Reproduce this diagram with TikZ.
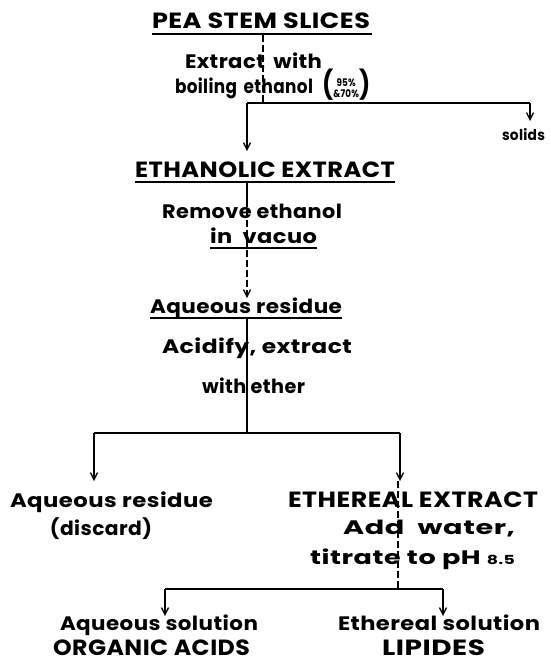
\documentclass[tikz,border=0pt]{standalone}
\usepackage{fontspec}
\setmainfont{Poppins}[LetterSpace=2]
\usetikzlibrary{arrows.meta}
\newsavebox\fwbox
\newlength\fwlen
\newcommand\fw[2]{\sbox\fwbox{#2}\setlength\fwlen{\wd\fwbox}\pgfmathsetmacro\fwr{#1/\fwlen}\scalebox{\fwr}[1]{\usebox\fwbox}}
\begin{document}
\begin{tikzpicture}[x=1pt,y=-1pt,
  txt/.style={inner sep=0pt,anchor=base,font=\bfseries\fontsize{19.5}{19.5}\selectfont},
  hdr/.style={txt,font=\bfseries\fontsize{22}{22}\selectfont},
  sml/.style={txt,font=\bfseries\fontsize{15}{15}\selectfont},
  ln/.style={line width=1.8pt},
  ul/.style={line width=1.6pt},
  arr/.style={ln,-{Straight Barb[length=7pt,width=7pt,line width=1.3pt]}},
  dsh/.style={line width=1.5pt,dash pattern=on 7pt off 3pt},
  darr/.style={dsh,-{Straight Barb[length=7pt,width=7pt,line width=1.3pt]}}]
\useasboundingbox (0,0) rectangle (551,665);
\fill[white] (0,0) rectangle (551,665);
% texts
\node[hdr] (pea) at (261,28) {\fw{218}{PEA STEM SLICES}};
\node[txt] (ext1) at (253.5,68) {\fw{137}{Extract \,with}};
\node[txt] (ext2) at (244,93) {\fw{138}{boiling \,ethanol}};
\node[inner sep=0pt,anchor=west] (pct) at (322,85) {\bfseries\fw{48}{{\fontsize{28}{28}\selectfont(}\raisebox{0.3ex}{\fontsize{10.5}{11.5}\selectfont\begin{tabular}{@{}c@{}}95\%\\\&70\%\end{tabular}}{\fontsize{28}{28}\selectfont)}}};
\node[sml] (solids) at (523.5,140) {\fw{43}{solids}};
\node[hdr] (etha) at (265,177) {\fw{260}{ETHANOLIC EXTRACT}};
\node[txt] (rem) at (252,218) {\fw{180}{Remove ethanol}};
\node[txt] (vac) at (263.5,243) {\fw{107}{in \ vacuo}};
\node[txt] (aq1) at (246,313) {\fw{192}{Aqueous residue}};
\node[txt] (acid) at (257,353) {\fw{190}{Acidify, extract}};
\node[txt] (eth) at (253.5,393) {\fw{103}{with ether}};
\node[txt] (aq2) at (111.5,507) {\fw{203}{Aqueous residue}};
\node[txt] (disc) at (101,535) {\fw{102}{(discard)}};
\node[hdr] (ethr) at (413,507) {\fw{250}{ETHEREAL EXTRACT}};
\node[txt] (add) at (429,534) {\fw{172}{Add \ water,}};
\node[txt] (tit) at (412.5,564) {\fw{205}{titrate to pH {\fontsize{12.5}{12.5}\selectfont 8.5}}};
\node[txt] (aqs) at (159,630) {\fw{198}{Aqueous solution}};
\node[txt] (ets) at (439,630) {\fw{202}{Ethereal solution}};
\node[hdr] (org) at (151.5,655) {\fw{197}{ORGANIC ACIDS}};
\node[hdr] (lip) at (433.5,655) {\fw{103}{LIPIDES}};
% underlines
\draw[ul] (152,34) -- (372,34);
\draw[ul] (135,182) -- (395,182);
\draw[ul] (210,248) -- (317,248);
\draw[ul] (150,318) -- (342,318);
% junction coordinates
\coordinate (a0) at (263,35);
\coordinate (a1) at (263,103);
\coordinate (h1l) at (247,103);
\coordinate (h1r) at (530,103);
\coordinate (s1) at (530,121);
\coordinate (e1) at (247,151);
\coordinate (b0) at (247,182);
\coordinate (b1) at (247,200);
\coordinate (b2) at (247,298);
\coordinate (c0) at (247,318);
\coordinate (c1) at (247,433);
\coordinate (h2l) at (94,433);
\coordinate (h2r) at (400,433);
\coordinate (d1) at (94,481);
\coordinate (d2) at (400,481);
\coordinate (f0) at (398,481);
\coordinate (f1) at (398,589);
\coordinate (h3l) at (165,589);
\coordinate (h3r) at (443,589);
\coordinate (g1) at (165,616);
\coordinate (g2) at (443,616);
% connectors
\draw[dsh] (a0) -- (a1);
\draw[ln] (h1l) -- (h1r);
\draw[arr] (h1r) -- (s1);
\draw[arr] (h1l) -- (e1);
\draw[ln] (b0) -- (b1);
\draw[darr] (b1) -- (b2);
\draw[ln] (c0) -- (c1);
\draw[ln] (h2l) -- (h2r);
\draw[arr] (h2l) -- (d1);
\draw[arr] (h2r) -- (d2);
\draw[dsh] (f0) -- (f1);
\draw[ln] (h3l) -- (h3r);
\draw[arr] (h3l) -- (g1);
\draw[arr] (h3r) -- (g2);
\end{tikzpicture}
\end{document}
